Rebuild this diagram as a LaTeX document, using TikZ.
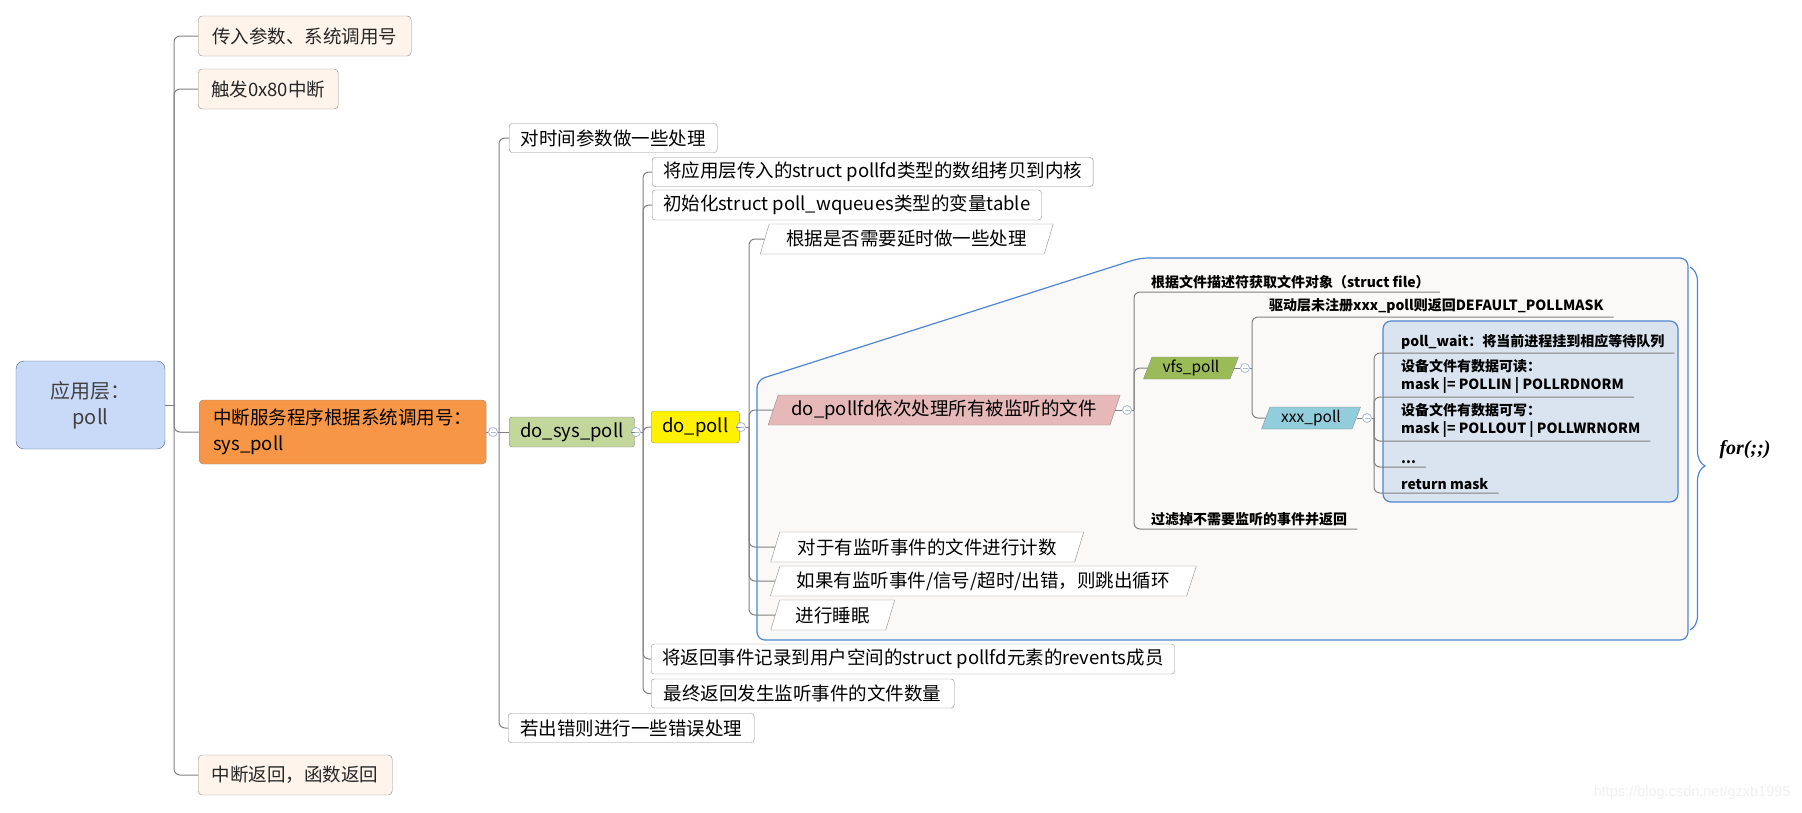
\documentclass[tikz,border=0pt]{standalone}
\usepackage{fontspec}
\setmainfont{Noto Sans CJK SC}
\newfontfamily\timesfont{Liberation Serif}
\newfontfamily\arialfont{Liberation Sans}
\usetikzlibrary{shapes.geometric, decorations.pathreplacing}

\definecolor{linegray}{HTML}{808080}
\definecolor{boxgray}{HTML}{8C8C8C}
\definecolor{peach}{HTML}{FEF4EB}
\definecolor{rootblue}{HTML}{C9DAF8}
\definecolor{rootedge}{HTML}{4A6590}
\definecolor{orangefill}{HTML}{F79646}
\definecolor{olive}{HTML}{C3D69B}
\definecolor{pinkfill}{HTML}{E6B9B8}
\definecolor{vfsgreen}{HTML}{9BBB59}
\definecolor{xxxblue}{HTML}{92CDDC}
\definecolor{loopfill}{HTML}{FAF9F7}
\definecolor{loopedge}{HTML}{4F86CF}
\definecolor{innerfill}{HTML}{DAE4F0}
\definecolor{foldedge}{HTML}{A8B8D8}

\tikzstyle{link} = [draw=linegray, line width=1pt, rounded corners=6pt]
\tikzstyle{topic} = [rectangle, draw=boxgray, fill=peach, rounded corners=4pt, minimum height=40pt, inner xsep=13pt, text=black!85, font={\fontsize{18.5}{26}\selectfont}, anchor=west]
\tikzstyle{block} = [rectangle, draw=boxgray, fill=white, rounded corners=3pt, minimum height=29pt, inner xsep=11pt, inner ysep=2pt, font={\fontsize{18.5}{26}\selectfont}, anchor=west]
\tikzstyle{slant} = [trapezium, trapezium left angle=67, trapezium right angle=113, trapezium stretches body, draw=boxgray, fill=white, minimum height=30pt, inner xsep=11pt, inner ysep=2pt, font={\fontsize{18.5}{26}\selectfont}, anchor=west]
\tikzstyle{small slant} = [slant, minimum height=22pt, inner xsep=8pt, font={\fontsize{15.5}{20}\selectfont}]
\tikzstyle{leaf} = [inner xsep=10pt, inner ysep=3pt, align=left, anchor=south west, font={\bfseries\fontsize{14}{18}\selectfont}]
\tikzstyle{fold} = [circle, draw=foldedge, fill=white, line width=0.8pt, minimum size=9pt, inner sep=0pt, path picture={\draw[foldedge, line width=0.8pt] ([xshift=2pt]path picture bounding box.west) -- ([xshift=-2pt]path picture bounding box.east);}]
\tikzstyle{frame} = [draw=loopedge, fill=loopfill, line width=1.2pt, rounded corners=8pt]
\tikzstyle{brace} = [draw=loopedge, line width=1.2pt, decorate, decoration={brace, amplitude=15pt, aspect=0.548}]

\begin{document}
\begin{tikzpicture}[x = 1pt, y = -1pt]

\useasboundingbox (0, 0) rectangle (1802, 812);

% ----------------------------------------------------

% helper grid (comment out once you're done!)
%\draw[help lines,step=10,thin,gray!20] (0,0) grid (1802, 812);
%\draw[help lines,step=100,gray!40,very thick] (0,0) grid (1802, 812);
%
% ----------------------------------------------------

  % the for(;;) frame round the body of do_poll
  \draw[frame] (757, 640) -- (757, 380) -- (1140, 258) -- (1688, 258) -- (1688, 640) -- cycle;
  \draw[frame, fill=innerfill] (1383, 321) rectangle (1678, 502);

  % user space
  \node (root) [rectangle, draw=rootedge, fill=rootblue, rounded corners=8pt, minimum width=149pt, minimum height=88pt, align=center, text=black!75, font={\fontsize{20}{26}\selectfont}] at (90.5, 405) {应用层：\\poll};

  \node (in1) [topic, minimum width=213pt] at (198, 36) {传入参数、系统调用号};
  \node (in2) [topic, minimum width=140pt] at (198, 89) {触发0x80中断};
  \node (sys) [topic, fill=orangefill, text=black, minimum width=287pt, minimum height=64pt, align=left] at (199, 432) {中断服务程序根据系统调用号：\\sys\_poll};
  \node (ret) [topic, minimum width=194pt] at (198, 775) {中断返回，函数返回};

  % sys_poll
  \node (t1) [block, minimum width=208pt] at (509, 138) {对时间参数做一些处理};
  \node (dosys) [block, fill=olive, minimum width=120pt, minimum height=30pt] at (509, 432) {do\_sys\_poll};
  \node (err) [block, minimum width=246pt] at (508, 728) {若出错则进行一些错误处理};

  % do_sys_poll
  \node (copyin) [block, minimum width=439pt] at (652, 172) {将应用层传入的struct pollfd类型的数组拷贝到内核};
  \node (init) [block, minimum width=377pt, minimum height=30pt] at (652, 205) {初始化struct poll\_wqueues类型的变量table};
  \node (dopoll) [block, fill=yellow, minimum width=82pt, minimum height=32pt] at (651, 427) {do\_poll};
  \node (copyout) [block, minimum width=520pt, minimum height=30pt] at (651, 659) {将返回事件记录到用户空间的struct pollfd元素的revents成员};
  \node (count) [block, minimum width=303pt] at (651, 693.5) {最终返回发生监听事件的文件数量};

  % do_poll
  \node (delay) [slant, minimum width=293pt] at (764.5, 239) {根据是否需要延时做一些处理};
  \node (pollfd) [slant, fill=pinkfill, minimum width=352pt] at (773, 410) {do\_pollfd依次处理所有被监听的文件};
  \node (cnt) [slant, minimum width=313pt] at (775, 547) {对于有监听事件的文件进行计数};
  \node (brk) [slant, minimum width=426pt] at (775, 581) {如果有监听事件/信号/超时/出错，则跳出循环};
  \node (sleep) [slant, minimum width=124pt] at (775, 615) {进行睡眠};

  % do_pollfd
  \node (getfile) [leaf] at (1141, 292) {根据文件描述符获取文件对象（struct file）};
  \node (vfs) [small slant, fill=vfsgreen, minimum width=95pt] at (1147.5, 368) {vfs\_poll};
  \node (filter) [leaf] at (1141, 529) {过滤掉不需要监听的事件并返回};

  % vfs_poll
  \node (nodrv) [leaf] at (1259, 317) {驱动层未注册xxx\_poll则返回DEFAULT\_POLLMASK};
  \node (xxx) [small slant, fill=xxxblue, minimum width=99pt] at (1265.5, 418) {xxx\_poll};

  % xxx_poll
  \node (wait) [leaf] at (1391, 353) {poll\_wait：将当前进程挂到相应等待队列};
  \node (rd) [leaf] at (1391, 397) {设备文件有数据可读：\\mask |= POLLIN | POLLRDNORM};
  \node (wr) [leaf] at (1391, 441) {设备文件有数据可写：\\mask |= POLLOUT | POLLWRNORM};
  \node (dots) [leaf] at (1391, 467) {...};
  \node (retmask) [leaf] at (1391, 493) {return mask};

  % fold markers and branch points
  \node (sysfold) [fold] at (493, 432) {};
  \node (dosysfold) [fold] at (636, 432) {};
  \node (dopollfold) [fold] at (741, 427) {};
  \node (pollfdfold) [fold] at (1127, 410) {};
  \node (vfsfold) [fold] at (1245, 368) {};
  \node (xxxfold) [fold] at (1367, 418) {};

  \coordinate (rootbus) at (174, 405);
  \coordinate (sysbus) at (499, 432);
  \coordinate (dosysbus) at (643, 432);
  \coordinate (dopollbus) at (749, 427);
  \coordinate (pollfdbus) at (1134, 410);
  \coordinate (vfsbus) at (1252, 368);
  \coordinate (xxxbus) at (1374, 418);

  % connectors
  \draw[link] (root.east) -- (rootbus);
  \foreach \kid in {in1, in2, sys, ret}
    \draw[link] (rootbus) |- (\kid.west);

  \draw[link] (sys.east) -- (sysfold.west);
  \draw[link] (sysfold.east) -- (sysbus);
  \foreach \kid in {t1, err}
    \draw[link] (sysbus) |- (\kid.west);
  \draw[link] (sysbus) -- (dosys.west);

  \draw[link] (dosys.east) -- (dosysfold.west);
  \draw[link] (dosysfold.east) -- (dosysbus);
  \foreach \kid in {copyin, init, dopoll, copyout, count}
    \draw[link] (dosysbus) |- (\kid.west);

  \draw[link] (dopoll.east) -- (dopollfold.west);
  \draw[link] (dopollfold.east) -- (dopollbus);
  \foreach \kid in {delay, pollfd, cnt, brk, sleep}
    \draw[link] (dopollbus) |- (\kid.west);

  \draw[link] (pollfd.east) -- (pollfdfold.west);
  \draw[link] (pollfdfold.east) -- (pollfdbus);
  \draw[link] (pollfdbus) |- (getfile.south east);
  \draw[link] (pollfdbus) |- (vfs.west);
  \draw[link] (pollfdbus) |- (filter.south east);

  \draw[link] (vfs.east) -- (vfsfold.west);
  \draw[link] (vfsfold.east) -- (vfsbus);
  \draw[link] (vfsbus) |- (nodrv.south east);
  \draw[link] (vfsbus) |- (xxx.west);

  \draw[link] (xxx.east) -- (xxxfold.west);
  \draw[link] (xxxfold.east) -- (xxxbus);
  \foreach \kid in {wait, rd, wr, dots, retmask}
    \draw[link] (xxxbus) |- (\kid.south east);

  % the loop brace
  \coordinate (looptop) at (1690, 267);
  \coordinate (loopbot) at (1690, 630);
  \draw[brace] (looptop) -- (loopbot);
  \node (forloop) [anchor=west, font={\timesfont\bfseries\itshape\fontsize{20}{24}\selectfont}] at (1716, 450) {for(;;)};

  \node (mark) [anchor=east, text=gray!12, font={\arialfont\fontsize{14.5}{16}\selectfont}] at (1794, 793) {https://blog.csdn.net/gzxb1995};

\end{tikzpicture}
\end{document}
